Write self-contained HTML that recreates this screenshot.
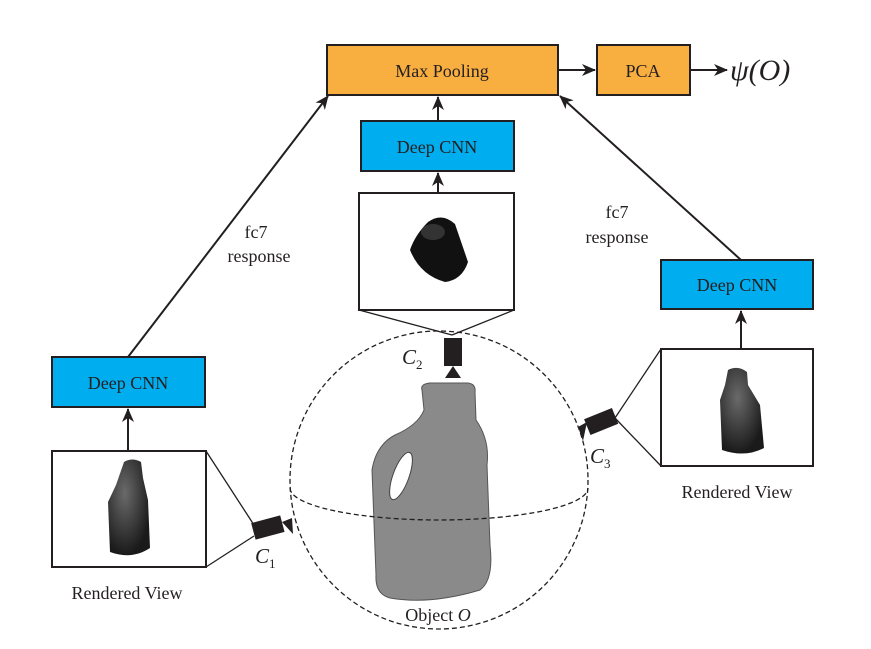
<!DOCTYPE html>
<html><head><style>
html,body{margin:0;padding:0;background:#fff;}
svg{display:block;}
text{font-family:"Liberation Serif",serif;fill:#231f20;}
</style></head><body>
<svg width="871" height="649" viewBox="0 0 871 649" xmlns="http://www.w3.org/2000/svg">
<defs>
<marker id="ar" markerWidth="14" markerHeight="12" refX="13" refY="6" orient="auto" markerUnits="userSpaceOnUse">
<path d="M0,0 L14,6 L0,12 L4,6 Z" fill="#231f20"/>
</marker>
<radialGradient id="bg" cx="40%" cy="35%" r="65%"><stop offset="0" stop-color="#6a6a6a"/><stop offset="1" stop-color="#1a1a1a"/></radialGradient>
</defs>
<g stroke="#231f20" stroke-width="2" fill="none">
<rect x="327" y="45" width="231" height="50" fill="#f9ae40"/>
<rect x="597" y="45" width="93" height="50" fill="#f9ae40"/>
<rect x="361" y="121" width="153" height="50" fill="#00aeef"/>
<rect x="52" y="357" width="153" height="50" fill="#00aeef"/>
<rect x="661" y="260" width="152" height="49" fill="#00aeef"/>
<rect x="359" y="193" width="155" height="117" fill="#fff"/>
<rect x="52" y="451" width="154" height="116" fill="#fff"/>
<rect x="661" y="349" width="152" height="117" fill="#fff"/>
<line x1="558" y1="70" x2="595" y2="70" marker-end="url(#ar)"/>
<line x1="690" y1="70" x2="727" y2="70" marker-end="url(#ar)"/>
<line x1="438" y1="121" x2="438" y2="97" marker-end="url(#ar)"/>
<line x1="438" y1="193" x2="438" y2="173" marker-end="url(#ar)"/>
<line x1="128" y1="451" x2="128" y2="409" marker-end="url(#ar)"/>
<line x1="741" y1="349" x2="741" y2="311" marker-end="url(#ar)"/>
<line x1="128" y1="357" x2="328" y2="96" marker-end="url(#ar)"/>
<line x1="741" y1="260" x2="560" y2="96" marker-end="url(#ar)"/>
</g>
<g stroke="#231f20" stroke-width="1.3" fill="none">
<line x1="359" y1="310" x2="452" y2="335"/><line x1="514" y1="310" x2="452" y2="335"/>
<line x1="206" y1="451" x2="254" y2="525"/><line x1="206" y1="567" x2="254" y2="536"/>
<line x1="661" y1="349" x2="615" y2="418"/><line x1="661" y1="466" x2="615" y2="418"/>
<circle cx="439" cy="480" r="149" stroke-dasharray="5,3"/>
</g>
<path d="M422,390 Q420,384 430,383 L468,383 Q476,384 475,392 L476,420 Q490,440 487,465 L490,545 Q494,580 480,590 Q430,605 390,598 Q375,594 376,575 L372,470 Q376,445 395,435 Q418,425 424,410 Z" fill="#8a8a8a" stroke="#555"/>
<ellipse cx="401" cy="476" rx="8" ry="25" transform="rotate(20 401 476)" fill="#fff" stroke="#444"/>
<path d="M290,488 A149,32 0 0 0 588,488" stroke="#231f20" stroke-width="1.3" fill="none" stroke-dasharray="5,3"/>
<path d="M428,222 Q442,212 455,224 L468,262 Q462,280 445,282 Q420,275 410,250 Q415,235 428,222 Z" fill="#111"/>
<ellipse cx="433" cy="232" rx="12" ry="8" fill="#333"/>
<path d="M124,462 Q132,457 141,462 L143,478 L148,500 L150,548 Q132,560 110,552 L108,502 L116,485 Z" fill="url(#bg)"/>
<path d="M728,370 Q738,365 747,372 L748,385 L760,405 L764,448 Q745,458 722,450 L720,400 L725,385 Z" fill="url(#bg)"/>
<rect x="444" y="338" width="18" height="28" fill="#231f20"/>
<path d="M445,378 L453,366 L461,378 Z" fill="#231f20"/>
<rect x="253" y="519" width="30" height="17" transform="rotate(-15 268 528)" fill="#231f20"/>
<path d="M282,522 L292,518 L293,534 Z" fill="#231f20"/>
<rect x="586" y="413" width="30" height="17" transform="rotate(-22 601 421)" fill="#231f20"/>
<path d="M587,422 L578,427 L583,441 Z" fill="#231f20"/>
<g font-size="18" text-anchor="middle">
<text x="442" y="77">Max Pooling</text>
<text x="643" y="77">PCA</text>
<text x="437" y="153">Deep CNN</text>
<text x="128" y="389">Deep CNN</text>
<text x="737" y="291">Deep CNN</text>
<text x="256" y="238">fc7</text>
<text x="259" y="262">response</text>
<text x="617" y="218">fc7</text>
<text x="617" y="243">response</text>
<text x="127" y="599">Rendered View</text>
<text x="737" y="498">Rendered View</text>
<text x="438" y="621">Object <tspan font-style="italic">O</tspan></text>
</g>
<text x="730" y="80" font-size="30" font-style="italic">ψ(O)</text>
<text x="402" y="364" font-size="21" font-style="italic">C<tspan font-size="13" font-style="normal" dy="5">2</tspan></text>
<text x="255" y="563" font-size="21" font-style="italic">C<tspan font-size="13" font-style="normal" dy="5">1</tspan></text>
<text x="590" y="463" font-size="21" font-style="italic">C<tspan font-size="13" font-style="normal" dy="5">3</tspan></text>
</svg>
</body></html>
